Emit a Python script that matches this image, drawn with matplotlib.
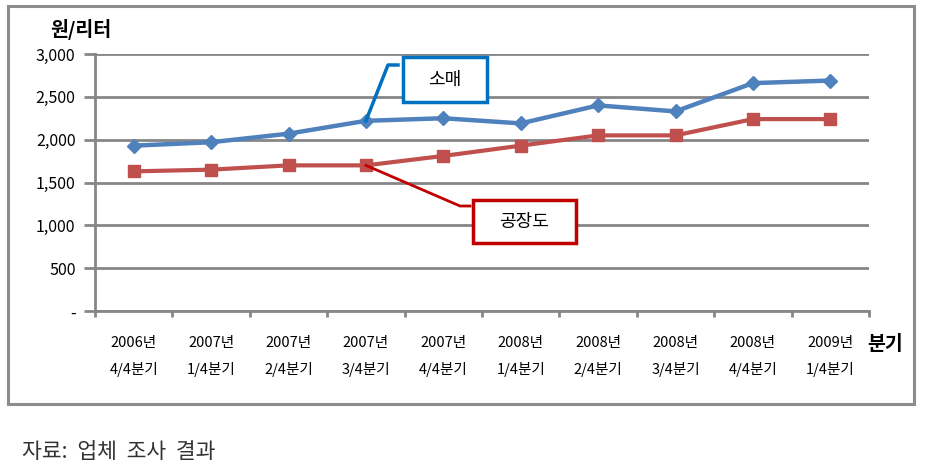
import matplotlib.pyplot as plt
from matplotlib.patches import Rectangle
from matplotlib.lines import Line2D
from matplotlib.ticker import FuncFormatter, FixedLocator

plt.rcParams['font.family'] = ['Noto Sans CJK KR', 'DejaVu Sans']

# 데이터
quarters = ['2006년\n4/4분기', '2007년\n1/4분기', '2007년\n2/4분기', '2007년\n3/4분기',
            '2007년\n4/4분기', '2008년\n1/4분기', '2008년\n2/4분기', '2008년\n3/4분기',
            '2008년\n4/4분기', '2009년\n1/4분기']
retail = [1930, 1970, 2070, 2220, 2250, 2190, 2400, 2330, 2660, 2690]
factory = [1630, 1650, 1700, 1700, 1810, 1930, 2050, 2050, 2240, 2240]
yticks = [0, 500, 1000, 1500, 2000, 2500, 3000]

W, H = 925, 476
fig = plt.figure(figsize=(W / 100, H / 100), dpi=100)

def fx(px):
    return px / W

def fy(py):
    return 1 - py / H

# 바깥 테두리
fig.patches.append(Rectangle((fx(8), fy(404)), fx(906), 398 / H, transform=fig.transFigure,
                             fill=False, ec='#8c8c8c', lw=2.2))

ax = fig.add_axes([fx(95), fy(311), fx(869 - 95), (311 - 54) / H])
x = list(range(len(quarters)))
ax.plot(x, retail, color='#4F81BD', lw=3.2, marker='D', ms=7.5, zorder=3)
ax.plot(x, factory, color='#C0504D', lw=3.0, marker='s', ms=9, zorder=3)

ax.set_xlim(-0.5, len(quarters) - 0.5)
ax.set_ylim(0, 3000)
ax.set_yticks(yticks)
ax.yaxis.set_major_formatter(FuncFormatter(lambda v, p: '-' if v == 0 else f'{int(v):,}'))
ax.grid(axis='y', color='#868686', lw=2)
ax.set_axisbelow(True)
ax.set_xticks(x)
ax.set_xticklabels(quarters, fontsize=10.5, linespacing=2.0)
ax.xaxis.set_minor_locator(FixedLocator([i - 0.5 for i in range(len(quarters) + 1)]))
ax.tick_params(axis='x', which='major', length=0, pad=18)
ax.tick_params(axis='x', which='minor', length=4, width=2, color='#868686')
ax.tick_params(axis='y', length=8, width=2, color='#868686', labelsize=11.5, pad=6)
for s in ['top', 'right']:
    ax.spines[s].set_visible(False)
for s in ['left', 'bottom']:
    ax.spines[s].set_color('#868686')
    ax.spines[s].set_linewidth(2)

fig.text(fx(50), fy(29), '원/리터', fontsize=14, fontweight='bold', va='center', ha='left')
fig.text(fx(867), fy(345), '분기', fontsize=14, fontweight='bold', va='center', ha='left')

# 주석 상자
fig.canvas.draw()
inv = fig.transFigure.inverted()

def data_to_fig(i, v):
    px = ax.transData.transform((i, v))
    return inv.transform(px)

# 소매
p = data_to_fig(3, retail[3])
fig.lines.append(Line2D([p[0], fx(388), fx(398)], [p[1], fy(65), fy(65)],
                        transform=fig.transFigure, color='#0070C0', lw=2.5))
fig.patches.append(Rectangle((fx(403), fy(102)), fx(84), 45 / H, transform=fig.transFigure,
                             fc='white', ec='#0070C0', lw=2.5, zorder=5))
fig.text(fx(445), fy(80), '소매', fontsize=13, ha='center', va='center', zorder=6)

# 공장도
p = data_to_fig(3, factory[3])
fig.lines.append(Line2D([p[0], fx(460), fx(470)], [p[1], fy(206), fy(206)],
                        transform=fig.transFigure, color='#C00000', lw=2))
fig.patches.append(Rectangle((fx(473), fy(243)), fx(103), 43 / H, transform=fig.transFigure,
                             fc='white', ec='#C00000', lw=2.5, zorder=5))
fig.text(fx(524), fy(222), '공장도', fontsize=13, ha='center', va='center', zorder=6)

fig.text(fx(22), fy(452), '자료:  업체  조사  결과', fontsize=15.5, color='#333333',
         va='center', ha='left')

fig.savefig('out.png', dpi=100)
